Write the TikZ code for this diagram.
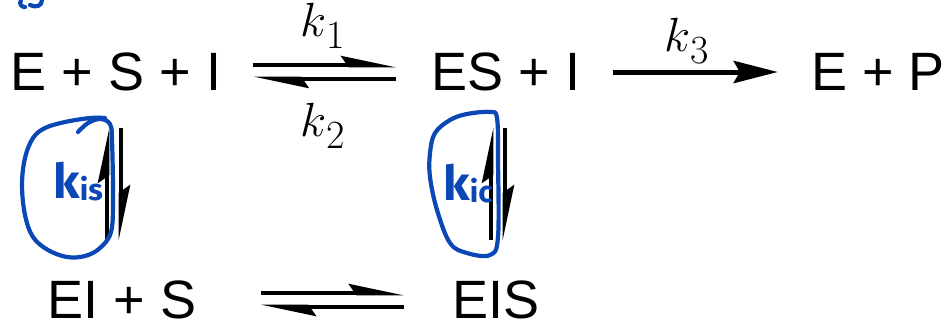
\RequirePackage{fix-cm}
\documentclass[tikz,border=0pt]{standalone}
\usepackage[no-math]{fontspec}
\setmainfont{Liberation Sans}
\newfontfamily\inkfont{Fira Sans}
\newfontfamily\lmfont{Latin Modern Roman}
\usepackage{xcolor}
\usetikzlibrary{arrows.meta}
\definecolor{inkblue}{HTML}{0B47B5}
\newcommand{\ratesub}[1]{\raisebox{-6pt}{\lmfont\fontsize{20}{20}\selectfont #1}}
\tikzset{
    species/.style={
        inner sep=0pt,
        font=\fontsize{27}{32}\selectfont
    },
    ratelabel/.style={
        inner sep=0pt,
        font=\fontsize{24}{28}\selectfont
    },
    harp/.style={
        line width=2.3pt,
        -{Stealth[harpoon, length=22pt, width=9pt, inset=3pt]}
    },
    onearrow/.style={
        line width=2.5pt,
        -{Stealth[length=22pt, width=11pt, inset=3pt]}
    },
    ink/.style={
        draw=inkblue,
        line width=2.1pt,
        line cap=round,
        line join=round
    },
    inklabel/.style={
        inner sep=0pt,
        text=inkblue,
        font=\inkfont\bfseries\fontsize{24}{24}\selectfont
    }
}
\begin{document}
\begin{tikzpicture}[x=0.5pt, y=-0.5pt]
    \useasboundingbox (0,0) rectangle (946,328);

    % species
    \node[species] (esi) at (116,72) {E + S + I};
    \node[species] (esI) at (506,72) {ES + I};
    \node[species] (ep)  at (878,72) {E + P};
    \node[species] (ei)  at (122,300) {EI + S};
    \node[species] (eis) at (496,300) {EIS};

    % rate constants
    \node[ratelabel] (k1) at (323,26) {$k$\ratesub{1}};
    \node[ratelabel] (k2) at (323,126) {$k$\ratesub{2}};
    \node[ratelabel] (k3) at (687,41) {$k$\ratesub{3}};

    % equilibria
    \draw[harp, shorten <=16pt, shorten >=17.5pt] ([yshift=3.5pt]esi.east) -- ([yshift=3.5pt]esI.west);
    \draw[harp, shorten <=17.5pt, shorten >=16pt] ([yshift=-3.5pt]esI.west) -- ([yshift=-3.5pt]esi.east);
    \draw[onearrow, shorten <=16pt, shorten >=16.5pt] (esI.east) -- (ep.west);
    \draw[harp, shorten <=32pt, shorten >=24pt] ([yshift=3.5pt]ei.east) -- ([yshift=3.5pt]eis.west);
    \draw[harp, shorten <=24pt, shorten >=32pt] ([yshift=-3.5pt]eis.west) -- ([yshift=-3.5pt]ei.east);
    \draw[harp, shorten <=20pt, shorten >=18pt] (ei.north -| 107,0) -- (esi.south -| 107,0);
    \draw[harp, shorten <=18pt, shorten >=20pt] (esi.south -| 121,0) -- (ei.north -| 121,0);
    \draw[harp, shorten <=20pt, shorten >=18pt] (eis.north -| 491,0) -- (esI.south -| 491,0);
    \draw[harp, shorten <=18pt, shorten >=20pt] (esI.south -| 505,0) -- (eis.north -| 505,0);

    % hand-written notes
    \draw[ink] plot[smooth, tension=0.6] coordinates {(78,132) (88,123) (100,119) (110,124) (112,140)
        (113,200) (111,232) (100,248) (85,256) (67,257) (48,250) (33,237) (25,215) (22,185)
        (25,158) (33,138) (45,128) (65,122) (90,118) (105,118)};
    \draw[ink] plot[smooth cycle, tension=0.6] coordinates {(467,114) (490,112) (497,118) (498,160)
        (498,237) (490,255) (467,253) (450,243) (437,210) (430,177) (430,153) (435,133) (450,120)};
    \node[inklabel, anchor=base west] (kis) at (53,198) {k\raisebox{-1pt}{\fontsize{15}{15}\selectfont is}};
    \node[inklabel, anchor=base west] (kic) at (443,200) {k\raisebox{-1pt}{\fontsize{15}{15}\selectfont ic}};
    \draw[ink] (21,0) .. controls (19,4) and (21,7) .. (25,7);
    \draw[ink] (30,5) .. controls (36,8) and (42,6) .. (42,0);
\end{tikzpicture}
\end{document}
